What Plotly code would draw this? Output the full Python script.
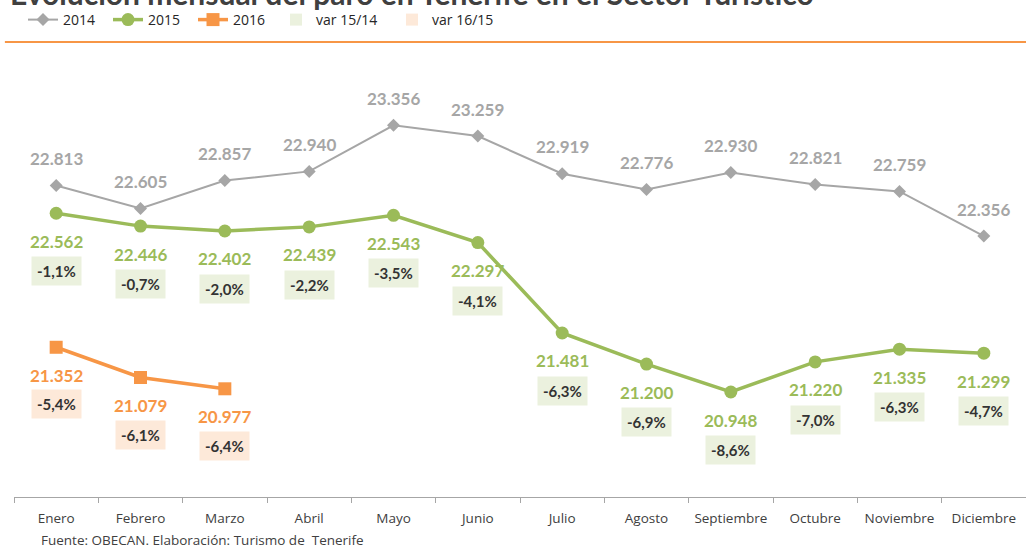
import plotly.graph_objects as go

months = ["Enero", "Febrero", "Marzo", "Abril", "Mayo", "Junio", "Julio",
          "Agosto", "Septiembre", "Octubre", "Noviembre", "Diciembre"]
v2014 = [22813, 22605, 22857, 22940, 23356, 23259, 22919, 22776, 22930, 22821, 22759, 22356]
v2015 = [22562, 22446, 22402, 22439, 22543, 22297, 21481, 21200, 20948, 21220, 21335, 21299]
v2016 = [21352, 21079, 20977]
var1514 = [-1.1, -0.7, -2.0, -2.2, -3.5, -4.1, -6.3, -6.9, -8.6, -7.0, -6.3, -4.7]
var1615 = [-5.4, -6.1, -6.4]

GRAY = "#A6A6A6"
GREEN = "#9BBB59"
ORANGE = "#F79646"
GREEN_BG = "#EBF1DE"
PEACH_BG = "#FDE9D9"
DARK = "#404040"
FONT = "Lato"

W, H = 1026, 548
MB = 51
ML = 14
PW = W - ML
PH = H - MB          # paper height in px (top margin 0)
PLOT_TOP = 54        # px from top where y-axis domain ends


def py(px):
    """pixel row (from top) -> paper y"""
    return (PH - px) / PH


def px_(x):
    """pixel column -> paper x"""
    return (x - ML) / PW


def fmt_num(v):
    return f"{v:,}".replace(",", ".")


def fmt_pct(v):
    return f"{v:.1f}%".replace(".", ",")


fig = go.Figure()
fig.add_trace(go.Scatter(x=months, y=v2014, name="2014", mode="lines+markers",
                         line=dict(color=GRAY, width=2),
                         marker=dict(symbol="diamond", size=10, color=GRAY)))
fig.add_trace(go.Scatter(x=months, y=v2015, name="2015", mode="lines+markers",
                         line=dict(color=GREEN, width=3.5),
                         marker=dict(symbol="circle", size=13, color=GREEN)))
fig.add_trace(go.Scatter(x=months[:len(v2016)], y=v2016, name="2016", mode="lines+markers",
                         line=dict(color=ORANGE, width=3.5),
                         marker=dict(symbol="square", size=13, color=ORANGE)))
fig.add_trace(go.Scatter(x=[None], y=[None], name="var 15/14", mode="markers",
                         legend="legend3",
                         marker=dict(symbol="square", size=12, color=GREEN_BG)))
fig.add_trace(go.Scatter(x=[None], y=[None], name="var 16/15", mode="markers",
                         legend="legend2",
                         marker=dict(symbol="square", size=12, color=PEACH_BG)))

ann = []
for m, v in zip(months, v2014):
    ann.append(dict(x=m, y=v, text=fmt_num(v), showarrow=False, yshift=27,
                    font=dict(family=FONT, size=17, color=GRAY, weight="bold")))
for m, v, p in zip(months, v2015, var1514):
    ann.append(dict(x=m, y=v, text=fmt_num(v), showarrow=False, yshift=-28,
                    font=dict(family=FONT, size=17, color=GREEN, weight="bold")))
    ann.append(dict(x=m, y=v, text=fmt_pct(p), showarrow=False, yshift=-58,
                    bgcolor=GREEN_BG, borderpad=5,
                    font=dict(family=FONT, size=15, color="#333333", weight="bold")))
for m, v, p in zip(months, v2016, var1615):
    ann.append(dict(x=m, y=v, text=fmt_num(v), showarrow=False, yshift=-28,
                    font=dict(family=FONT, size=17, color=ORANGE, weight="bold")))
    ann.append(dict(x=m, y=v, text=fmt_pct(p), showarrow=False, yshift=-57,
                    bgcolor=PEACH_BG, borderpad=5,
                    font=dict(family=FONT, size=15, color="#333333", weight="bold")))

ann.append(dict(xref="paper", yref="paper", x=-0.006, y=py(-7), xanchor="left", yanchor="middle",
                text="Evolución mensual del paro en Tenerife en el Sector Turístico",
                showarrow=False, font=dict(family=FONT, size=30, color=DARK, weight="bold")))
ann.append(dict(xref="paper", yref="paper", x=0.025, y=py(540), xanchor="left", yanchor="middle",
                text="Fuente: OBECAN. Elaboración: Turismo de  Tenerife",
                showarrow=False, font=dict(family="Open Sans", size=13.5, color=DARK)))

legend_common = dict(orientation="h", yanchor="middle", xanchor="left", y=py(20),
                     font=dict(family="Open Sans", size=14, color="#262626"),
                     itemwidth=30, tracegroupgap=0, bgcolor="rgba(0,0,0,0)")

fig.update_layout(
    width=W, height=H,
    margin=dict(l=ML, r=0, t=0, b=MB, autoexpand=False),
    paper_bgcolor="white", plot_bgcolor="white",
    showlegend=True,
    legend=dict(x=px_(23), entrywidth=40, entrywidthmode="pixels", **legend_common),
    legend3=dict(x=px_(276), **legend_common),
    legend2=dict(x=px_(392), **legend_common),
    annotations=ann,
    shapes=[dict(type="line", xref="paper", yref="paper", x0=-0.009, x1=1,
                 y0=py(42), y1=py(42), line=dict(color=ORANGE, width=2))],
    xaxis=dict(range=[-0.5, 11.5], showgrid=False, showline=True, linecolor="#A6A6A6",
               linewidth=1, ticks="outside", tickson="boundaries", ticklen=5,
               tickcolor="#A6A6A6", tickfont=dict(family="Open Sans", size=13.5, color=DARK),
               ticklabelstandoff=9,
               zeroline=False, automargin=False),
    yaxis=dict(range=[20000, 24000], visible=False, showgrid=False, zeroline=False,
               domain=[0, py(PLOT_TOP)], automargin=False),
)

fig.write_html("out.html", config={"displayModeBar": False},
               post_script="document.body.style.margin='0';document.body.style.overflow='hidden';")
